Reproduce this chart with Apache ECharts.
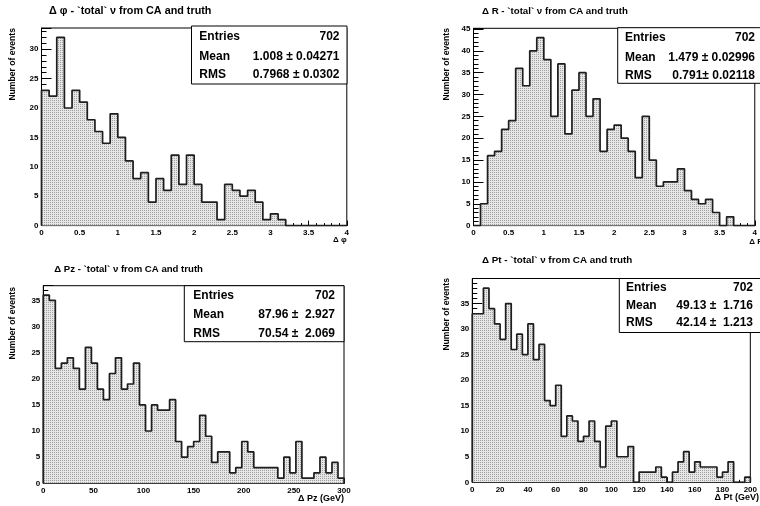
<!DOCTYPE html>
<html>
<head>
<meta charset="utf-8">
<script src="https://cdn.jsdelivr.net/npm/echarts@6/dist/echarts.min.js"></script>
<style>
  html, body { margin: 0; padding: 0; background: #ffffff; }
  #chart { width: 760px; height: 506px; }
</style>
</head>
<body>
<div id="chart"></div>
<script>
// ---- histogram contents (bin counts, left to right) ----
const phiRange = [0, 4];
const phiBinWidth = 0.1;
const phiCounts = [23, 22, 32, 20, 23, 21, 18, 16, 14, 19,
                   15, 11, 8, 9, 4, 8, 6, 12, 7, 12,
                   7, 4, 4, 1, 7, 6, 5, 6, 4, 1,
                   2, 1, 0, 0, 0, 0, 0, 0, 0, 0];

const drRange = [0, 4];
const drBinWidth = 0.1;
const drCounts = [0, 5, 16, 17, 22, 24, 36, 32, 40, 43,
                  38, 25, 37, 21, 31, 35, 25, 29, 17, 22,
                  23, 20, 17, 11, 25, 15, 9, 10, 10, 13,
                  8, 6, 5, 6, 3, 0, 2, 0, 0, 0];

const pzRange = [0, 300];
const pzBinWidth = 6;
const pzCounts = [36, 35, 22, 23, 24, 22, 18, 26, 23, 18,
                  16, 21, 24, 18, 19, 23, 15, 10, 15, 14,
                  14, 16, 8, 5, 7, 8, 13, 9, 4, 6,
                  6, 2, 3, 8, 6, 3, 3, 3, 3, 1,
                  5, 2, 8, 1, 1, 2, 5, 2, 4, 1];

const ptRange = [0, 200];
const ptBinWidth = 4;
const ptCounts = [33, 33, 38, 34, 31, 28, 35, 26, 29, 25,
                  31, 24, 27, 16, 15, 19, 9, 13, 12, 8,
                  9, 12, 8, 3, 11, 12, 5, 5, 7, 0,
                  2, 2, 2, 3, 1, 0, 2, 4, 6, 2,
                  4, 3, 3, 3, 1, 2, 4, 0, 0, 1];

// ---- axis tick spacing ----
const phiTicks = { major: 0.5, minor: 0.1 };
const drTicks  = { major: 0.5, minor: 0.1 };
const pzTicks  = { major: 50,  minor: 10 };
const ptTicks  = { major: 20,  minor: 4 };
const countTicks = { major: 5, minor: 1 };

// ---- text ----
const titles = [
  'Δ φ - `total` ν from CA and truth',
  'Δ R - `total` ν from CA and truth',
  'Δ Pz - `total` ν from CA and truth',
  'Δ Pt - `total` ν from CA and truth'
];
const xTitles = ['Δ φ', 'Δ R', 'Δ Pz (GeV)', 'Δ Pt (GeV)'];
const yTitle = 'Number of events';
const statNames = ['Entries', 'Mean', 'RMS'];
const phiStats = ['702', '1.008 ± 0.04271', '0.7968 ± 0.0302'];
const drStats  = ['702', '1.479 ± 0.02996', '0.791± 0.02118'];
const pzStats  = ['702', '87.96 ±  2.927', '70.54 ±  2.069'];
const ptStats  = ['702', '49.13 ±  1.716', '42.14 ±  1.213'];

// ---- layout of the four pads ----
const FONT = '"Liberation Sans", Arial, Helvetica, sans-serif';
const pads = [
  { range: phiRange, width: phiBinWidth, counts: phiCounts, ticks: phiTicks, stats: phiStats,
    grid: { left: 41.5, top: 28, width: 305.3, height: 197.6 },
    title: [49, 11, 10.8], yTitle: [12.7, 28], xTitle: [346.7, 240, 8],
    box: { x: 191.5, y: 26, w: 155.5, h: 58, rows: [36.7, 56.7, 75], lx: 199.3, rx: 339.5 } },
  { range: drRange, width: drBinWidth, counts: drCounts, ticks: drTicks, stats: drStats,
    grid: { left: 473.5, top: 28.3, width: 287.3, height: 197.3 },
    title: [482, 11, 9.7], yTitle: [446.7, 28], xTitle: [763, 242, 8],
    box: { x: 617.7, y: 27.7, w: 160, h: 55.6, rows: [37.3, 57.3, 76], lx: 625, rx: 755 } },
  { range: pzRange, width: pzBinWidth, counts: pzCounts, ticks: pzTicks, stats: pzStats,
    grid: { left: 43.3, top: 285.7, width: 300.7, height: 197.6 },
    title: [54.3, 269, 9.6], yTitle: [13, 287], xTitle: [344, 499, 9],
    box: { x: 184.3, y: 285.7, w: 159.7, h: 56, rows: [295.7, 314.3, 333.3], lx: 193.3, rx: 335 } },
  { range: ptRange, width: ptBinWidth, counts: ptCounts, ticks: ptTicks, stats: ptStats,
    grid: { left: 472.3, top: 278.5, width: 289, height: 203.8 },
    title: [482, 260, 9.8], yTitle: [446.7, 278], xTitle: [759, 498, 9],
    box: { x: 619.3, y: 278.5, w: 160, h: 54, rows: [287.3, 306, 322.3], lx: 626, rx: 753 } }
];

// stipple fill used for the histogram area
function makeStipple() {
  const c = document.createElement('canvas');
  c.width = 2; c.height = 2;
  const g = c.getContext('2d');
  g.fillStyle = '#e6e6e6';
  g.fillRect(0, 0, 2, 2);
  g.fillStyle = '#a0a0a0';
  g.fillRect(0, 0, 1, 1);
  return c;
}
const stipple = { image: makeStipple(), repeat: 'repeat' };

// outline points for a step histogram: left edge of every bin, closed to zero at both ends
function stepPoints(range, width, counts) {
  const pts = [[range[0], 0]];
  counts.forEach((c, i) => pts.push([range[0] + i * width, c]));
  const hi = range[0] + counts.length * width;
  pts.push([hi, counts[counts.length - 1]]);
  pts.push([hi, 0]);
  return pts;
}

function multipleOf(step) {
  return function (v) {
    const r = Math.round(v / step) * step;
    return Math.abs(v - r) < 1e-6 ? String(+r.toFixed(6)) : '';
  };
}

const labelStyle = { color: '#000', fontFamily: FONT, fontWeight: 'bold', fontSize: 8 };

const option = {
  animation: false,
  backgroundColor: '#ffffff',
  grid: [], xAxis: [], yAxis: [], series: [], graphic: []
};

pads.forEach((p, i) => {
  const yMax = Math.max.apply(null, p.counts) * 1.05;
  option.grid.push(Object.assign({ show: true, borderColor: '#000', borderWidth: 1,
    backgroundColor: 'transparent', containLabel: false }, p.grid));

  // major x axis with labels
  option.xAxis.push({
    type: 'value', gridIndex: i, position: 'bottom', min: p.range[0], max: p.range[1],
    interval: p.ticks.major,
    axisLine: { show: true, lineStyle: { color: '#000', width: 1 } },
    axisTick: { show: true, inside: true, length: 5, lineStyle: { color: '#000', width: 1 } },
    splitLine: { show: false },
    axisLabel: Object.assign({ margin: 3, formatter: multipleOf(p.ticks.major),
      showMinLabel: true, showMaxLabel: true }, labelStyle)
  });
  // minor x ticks
  option.xAxis.push({
    type: 'value', gridIndex: i, position: 'bottom', min: p.range[0], max: p.range[1],
    interval: p.ticks.minor,
    axisLine: { show: false },
    axisTick: { show: true, inside: true, length: 2.5, lineStyle: { color: '#000', width: 1 } },
    splitLine: { show: false }, axisLabel: { show: false }
  });
  // major y axis with labels
  option.yAxis.push({
    type: 'value', gridIndex: i, position: 'left', min: 0, max: yMax,
    interval: countTicks.major,
    axisLine: { show: true, lineStyle: { color: '#000', width: 1 } },
    axisTick: { show: true, inside: true, length: 10, lineStyle: { color: '#000', width: 1 } },
    splitLine: { show: false },
    axisLabel: Object.assign({ margin: 3, formatter: multipleOf(countTicks.major),
      showMinLabel: true, showMaxLabel: true }, labelStyle)
  });
  // minor y ticks
  option.yAxis.push({
    type: 'value', gridIndex: i, position: 'left', offset: 0, min: 0, max: yMax,
    interval: countTicks.minor,
    axisLine: { show: false },
    axisTick: { show: true, inside: true, length: 5, lineStyle: { color: '#000', width: 1 } },
    splitLine: { show: false }, axisLabel: { show: false }
  });

  option.series.push({
    type: 'line', xAxisIndex: 2 * i, yAxisIndex: 2 * i,
    data: stepPoints(p.range, p.width, p.counts),
    step: 'end', symbol: 'none', clip: true, z: 3,
    lineStyle: { color: '#1e1e1e', width: 1.7 },
    areaStyle: { color: stipple, opacity: 1 }
  });

  // pad title
  option.graphic.push({
    type: 'text', x: p.title[0], y: p.title[1], z: 10,
    style: { text: titles[i], fill: '#000', font: 'bold ' + p.title[2] + 'px ' + FONT,
      align: 'left', verticalAlign: 'middle' }
  });
  // y axis title (rotated, aligned to the top of the axis)
  option.graphic.push({
    type: 'text', x: p.yTitle[0], y: p.yTitle[1], rotation: Math.PI / 2, z: 10,
    style: { text: yTitle, fill: '#000', font: 'bold 8.6px ' + FONT,
      align: 'right', verticalAlign: 'middle' }
  });
  // x axis title (aligned to the right end of the axis)
  option.graphic.push({
    type: 'text', x: p.xTitle[0], y: p.xTitle[1], z: 10,
    style: { text: xTitles[i], fill: '#000', font: 'bold ' + p.xTitle[2] + 'px ' + FONT,
      align: 'right', verticalAlign: 'middle' }
  });

  // statistics box
  const b = p.box;
  option.graphic.push({
    type: 'rect', z: 10, shape: { x: b.x, y: b.y, width: b.w, height: b.h },
    style: { fill: '#fff', stroke: '#000', lineWidth: 1 }
  });
  statNames.forEach((name, k) => {
    option.graphic.push({
      type: 'text', x: b.lx, y: b.rows[k], z: 11,
      style: { text: name, fill: '#000', font: 'bold 12px ' + FONT,
        align: 'left', verticalAlign: 'middle' }
    });
    option.graphic.push({
      type: 'text', x: b.rx, y: b.rows[k], z: 11,
      style: { text: p.stats[k], fill: '#000', font: 'bold 12px ' + FONT,
        align: 'right', verticalAlign: 'middle' }
    });
  });
});

const chart = echarts.init(document.getElementById('chart'), null, { renderer: 'canvas' });
chart.setOption(option);
</script>
</body>
</html>
